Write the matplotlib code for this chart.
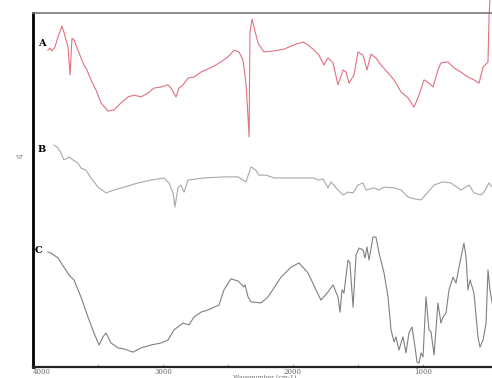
import matplotlib
matplotlib.use("Agg")
import matplotlib.pyplot as plt
import numpy as np

# Spectrum A (red) : wavenumber (cm-1), transmittance (%T, arbitrary offset)
wn_a = [3885, 3869, 3854, 3831, 3808, 3777, 3762, 3731, 3715, 3700, 3685, 3654, 3631,
        3608, 3585, 3554, 3515, 3477, 3423, 3377, 3323, 3269, 3223, 3169, 3115, 3069,
        3015, 2962, 2938, 2900, 2877, 2846, 2808, 2762, 2708, 2654, 2608, 2554, 2500,
        2454, 2415, 2385, 2362, 2346, 2338, 2331, 2315, 2300, 2269, 2223, 2146, 2069,
        1992, 1923, 1885, 1838, 1800, 1762, 1731, 1692, 1654, 1615, 1592, 1569, 1531,
        1500, 1462, 1431, 1400, 1362, 1323, 1269, 1223, 1169, 1115, 1069, 1031, 992,
        954, 923, 885, 862, 808, 762, 708, 654, 608, 569, 538, 500, 492, 485]
t_a = [89.5, 90.1, 89.3, 90.4, 93.2, 96.3, 94.6, 90.4, 82.5, 92.9, 92.4, 89.5, 87.3,
       85.3, 83.9, 81.1, 78.2, 74.6, 72.3, 72.6, 74.6, 76.3, 76.8, 76.3, 77.4, 78.8,
       79.1, 79.7, 78.8, 76.3, 78.8, 79.7, 81.6, 81.9, 83.3, 84.2, 85.0, 86.2, 87.6,
       89.5, 89.0, 86.7, 80.2, 70.6, 65.0, 94.6, 98.3, 96.0, 91.5, 89.0, 89.3, 89.8,
       91.0, 91.8, 91.0, 89.5, 88.1, 85.3, 87.3, 85.9, 79.7, 83.9, 83.3, 80.2, 82.5,
       89.0, 88.1, 83.9, 88.4, 87.3, 85.3, 83.1, 81.1, 77.7, 76.0, 73.4, 76.8, 81.1,
       80.2, 79.1, 83.9, 85.9, 86.2, 84.5, 83.3, 81.9, 81.1, 80.2, 84.7, 86.2, 98.9, 103.7]

# Spectrum B (grey)
wn_b = [3838, 3808, 3785, 3762, 3723, 3692, 3654, 3631, 3592, 3554, 3500, 3438, 3377,
        3300, 3192, 3092, 2992, 2954, 2923, 2908, 2885, 2862, 2838, 2808, 2685, 2531,
        2423, 2362, 2323, 2285, 2262, 2208, 2146, 2015, 1838, 1808, 1769, 1731, 1708,
        1654, 1615, 1577, 1538, 1500, 1462, 1438, 1377, 1338, 1300, 1223, 1169, 1115,
        1069, 1015, 962, 915, 846, 785, 708, 646, 608, 554, 531, 492, 462]
t_b = [62.7, 61.9, 60.5, 58.5, 59.3, 58.5, 57.6, 56.2, 55.6, 53.4, 50.8, 49.2, 50.0,
       50.8, 52.0, 52.8, 53.4, 52.0, 49.2, 45.2, 50.6, 51.4, 49.4, 52.8, 53.4, 53.7,
       53.7, 52.3, 56.5, 55.6, 54.2, 54.2, 53.4, 53.4, 53.4, 52.8, 53.1, 50.6, 52.3,
       50.0, 48.6, 49.4, 49.2, 51.4, 52.0, 50.0, 50.6, 50.0, 50.8, 50.6, 50.0, 48.0,
       47.5, 47.2, 49.4, 51.4, 52.3, 52.0, 50.0, 51.4, 49.2, 48.6, 49.4, 52.0, 50.6]

# Spectrum C (grey)
wn_c = [3885, 3862, 3808, 3762, 3723, 3685, 3631, 3577, 3531, 3492, 3462, 3438, 3400,
        3346, 3300, 3231, 3169, 3092, 3015, 2962, 2915, 2846, 2800, 2762, 2708, 2654,
        2608, 2569, 2531, 2477, 2423, 2377, 2369, 2346, 2323, 2246, 2192, 2092, 2015,
        1954, 1885, 1823, 1785, 1731, 1692, 1654, 1638, 1623, 1608, 1577, 1562, 1538,
        1515, 1492, 1462, 1446, 1431, 1415, 1385, 1362, 1338, 1300, 1269, 1246, 1223,
        1208, 1185, 1154, 1131, 1108, 1085, 1069, 1046, 1031, 1015, 1000, 977, 954,
        938, 915, 885, 862, 846, 823, 800, 769, 746, 723, 685, 669, 654, 638, 608,
        577, 562, 538, 515, 500, 485, 462]
t_c = [32.5, 32.2, 30.8, 28.2, 26.0, 24.6, 19.8, 14.1, 9.6, 6.2, 8.5, 9.6, 6.8,
       5.4, 5.1, 4.2, 5.4, 6.2, 6.8, 7.6, 10.5, 12.4, 11.9, 14.1, 15.5, 16.1,
       16.9, 17.5, 21.8, 24.9, 24.3, 22.6, 23.2, 19.8, 18.4, 18.1, 19.8, 25.4, 28.2,
       29.4, 26.6, 21.8, 18.9, 21.2, 23.2, 19.8, 15.5, 21.8, 20.9, 30.2, 29.4, 16.9,
       31.6, 33.6, 33.1, 30.8, 33.9, 30.2, 36.7, 36.7, 32.2, 26.6, 19.8, 10.5, 7.1,
       8.5, 4.8, 8.5, 4.0, 9.6, 11.3, 7.6, 1.4, 1.1, 4.0, 2.8, 19.8, 10.5,
       9.9, 3.4, 18.1, 12.4, 14.1, 15.3, 21.8, 25.4, 23.7, 28.2, 35.0, 31.1, 21.8, 24.6, 20.9,
       8.5, 5.6, 7.6, 12.4, 27.4, 21.8, 16.9]

trace_labels = ["A", "B", "C"]
xticks = [4000, 3000, 2000, 1000, 400]

fig = plt.figure(figsize=(4.92, 3.78), dpi=100)
ax = fig.add_axes([33 / 492, 11 / 378, 468 / 492, 354 / 378])

ax.plot(wn_a, t_a, color="#e2707f", lw=0.8, clip_on=False)
ax.plot(wn_b, t_b, color="#a8a8a8", lw=0.8)
ax.plot(wn_c, t_c, color="#808080", lw=0.8)

ax.set_xlim(4000, 400)
ax.set_ylim(0, 100)

ax.set_xticks(xticks)
ax.set_xticklabels([str(t) for t in xticks], fontsize=5, color="#666666",
                   family="DejaVu Serif")
ax.get_xticklabels()[0].set_horizontalalignment("left")
ax.set_xticks([3500, 2500, 1500], minor=True)
ax.tick_params(axis="x", which="both", direction="in", length=2, width=0.6,
               color="#999999", pad=1)
ax.set_yticks([])

ax.spines["left"].set_linewidth(2.0)
ax.spines["left"].set_color("black")
ax.spines["bottom"].set_linewidth(1.6)
ax.spines["bottom"].set_color("#222222")
ax.spines["top"].set_linewidth(1.2)
ax.spines["top"].set_color("#777777")
ax.spines["right"].set_visible(False)

# Trace labels
label_pos = [(3930, 91.5), (3930, 61.5), (3960, 33.0)]
for lab, (x, y) in zip(trace_labels, label_pos):
    ax.text(x, y, lab, fontsize=7, fontweight="bold", family="DejaVu Serif",
            ha="center", va="center")

fig.text(20 / 492, 1 - 158 / 378, "%T", fontsize=3.5, color="#555555",
         ha="center", va="center")
fig.text(265 / 492, 3 / 378, "Wavenumber (cm-1)", fontsize=4.5, color="#666666",
         ha="center", va="top", family="DejaVu Serif")

fig.savefig("out.png", dpi=100)
